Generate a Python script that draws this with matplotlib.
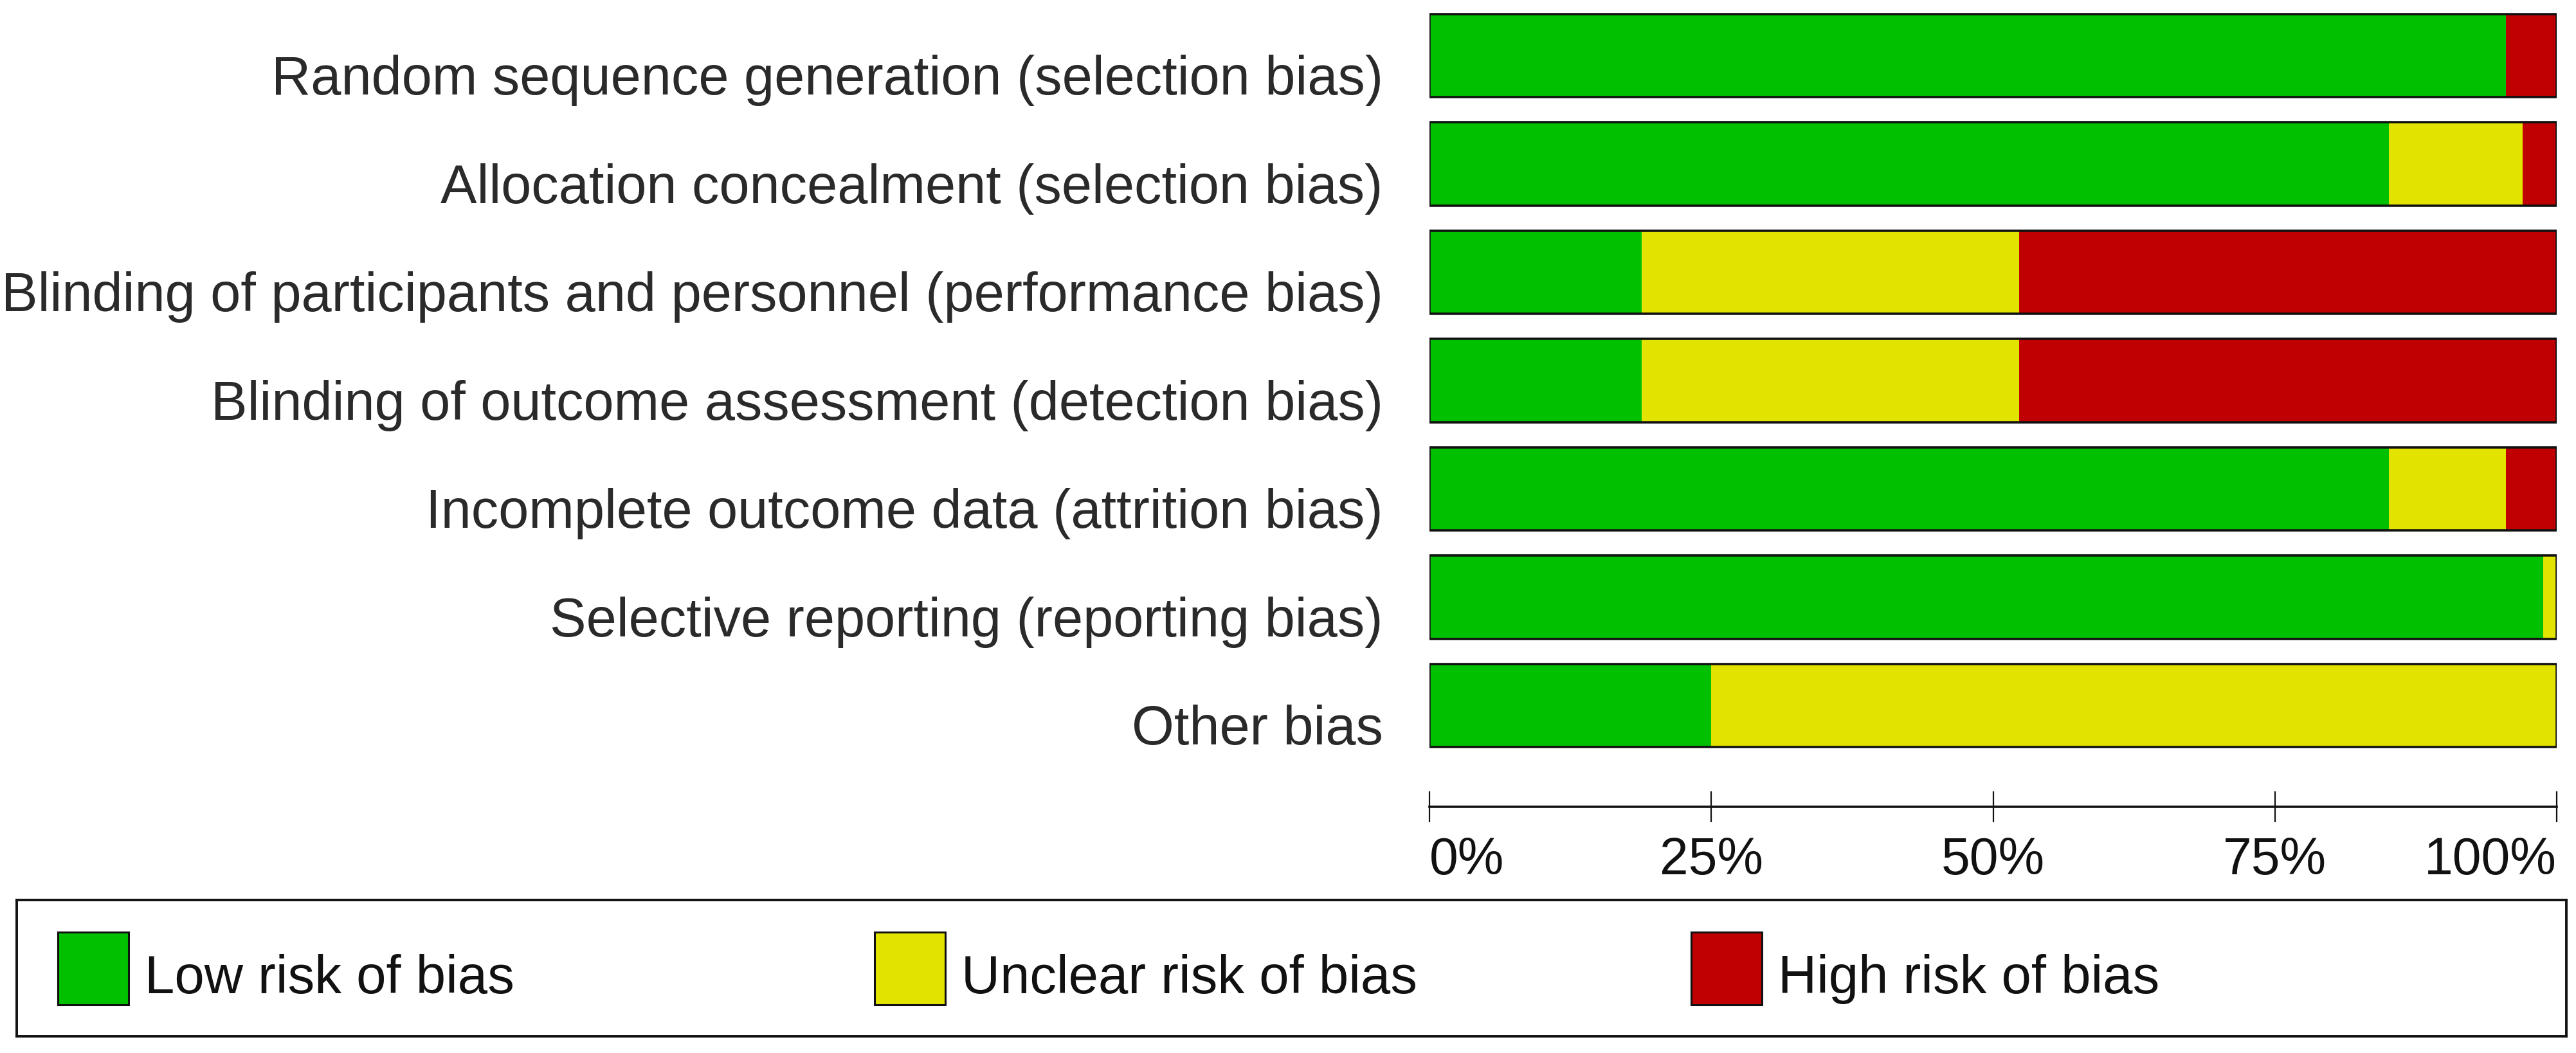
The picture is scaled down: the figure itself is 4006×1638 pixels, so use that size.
import matplotlib
matplotlib.use("Agg")
import matplotlib.pyplot as plt
from matplotlib.patches import Rectangle
from matplotlib.transforms import ScaledTranslation
import numpy as np

# Risk of bias domains (top to bottom) and the share of each judgement in %
domains = [
    "Random sequence generation (selection bias)",
    "Allocation concealment (selection bias)",
    "Blinding of participants and personnel (performance bias)",
    "Blinding of outcome assessment (detection bias)",
    "Incomplete outcome data (attrition bias)",
    "Selective reporting (reporting bias)",
    "Other bias",
]
low_risk = [95.5, 85.1, 18.8, 18.8, 85.1, 98.8, 25.0]
unclear_risk = [0.0, 11.9, 33.5, 33.5, 10.4, 1.2, 75.0]
high_risk = [4.5, 3.0, 47.7, 47.7, 4.5, 0.0, 0.0]

categories = ["Low risk of bias", "Unclear risk of bias", "High risk of bias"]
colors = ["#00C000", "#E3E300", "#C00000"]
xticks = [0, 25, 50, 75, 100]
xtick_labels = ["0%", "25%", "50%", "75%", "100%"]

plt.rcParams["font.family"] = ["Liberation Sans", "DejaVu Sans"]
FS = 61

W, H = 4006, 1638
fig = plt.figure(figsize=(W / 100, H / 100), dpi=100)
ax = fig.add_axes([2223 / W, 1 - 1255 / H, (3976 - 2223) / W, 1255 / H])

y = np.arange(len(domains))
left = np.zeros(len(domains))
for vals, col in zip([low_risk, unclear_risk, high_risk], colors):
    ax.barh(y, vals, left=left, height=0.77, color=col, edgecolor="none")
    left += np.array(vals)

# outline around each stacked bar
ax.barh(y, left, height=0.77, fill=False, edgecolor="#111111", linewidth=2.6)

ax.set_xlim(0, 100)
ax.set_ylim(6.935, -0.513)
ax.set_yticks(y)
ax.set_yticklabels(domains, fontsize=FS, color="#2a2a2a")
ax.tick_params(axis="y", length=0, pad=52)
# labels sit a little below the bar centre in the original
shift = ScaledTranslation(0, -0.30, fig.dpi_scale_trans)
for lab in ax.get_yticklabels():
    lab.set_transform(lab.get_transform() + shift)

ax.set_xticks(xticks)
ax.set_xticklabels(xtick_labels, fontsize=58, color="#111111")
ax.tick_params(axis="x", direction="inout", length=34, width=1.6, pad=16, color="#111111")
labels = ax.get_xticklabels()
labels[0].set_ha("left")
labels[-1].set_ha("right")

for side in ["top", "left", "right"]:
    ax.spines[side].set_visible(False)
ax.spines["bottom"].set_linewidth(2.6)
ax.spines["bottom"].set_color("#111111")

# legend box across the bottom
leg = fig.add_axes([26 / W, 1 - 1612 / H, (3991 - 26) / W, (1612 - 1400) / H])
leg.set_xlim(0, W - 26 - 15)
leg.set_ylim(0, 212)
leg.set_xticks([])
leg.set_yticks([])
for s in leg.spines.values():
    s.set_linewidth(2.8)
    s.set_color("#111111")

step = 1270
for i, (name, col) in enumerate(zip(categories, colors)):
    x0 = 64 + i * step
    leg.add_patch(Rectangle((x0, 49), 110, 113, facecolor=col, edgecolor="#111111", linewidth=2.2))
    leg.text(x0 + 135, 67, name, fontsize=60, va="baseline", ha="left", color="#111111")

fig.savefig("out.png", dpi=100, facecolor="white")
